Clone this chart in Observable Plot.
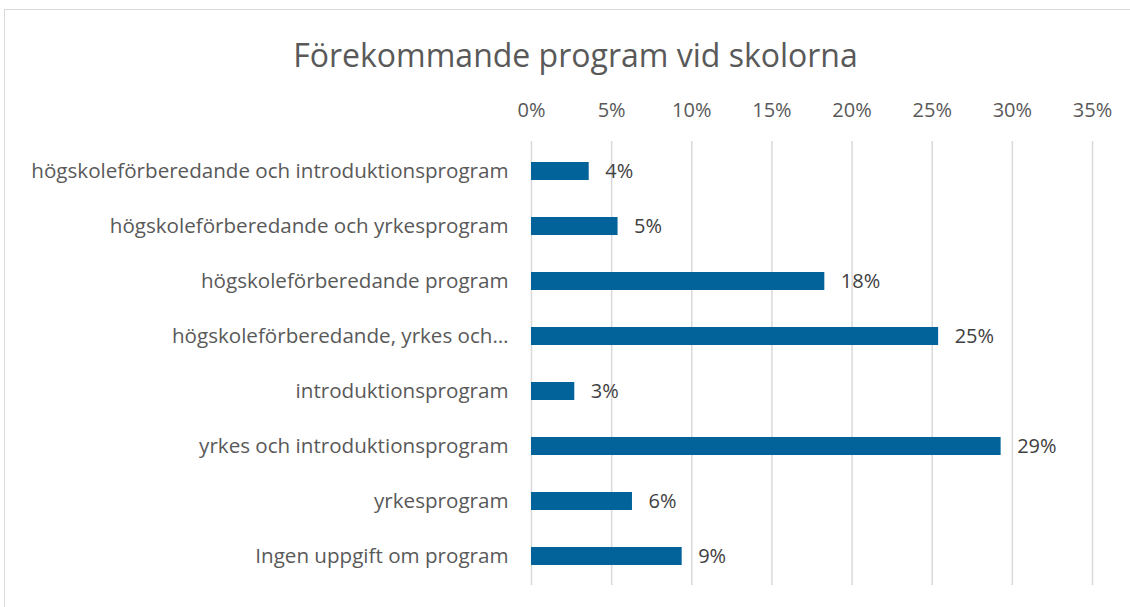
<!DOCTYPE html>
<html><head><meta charset="utf-8">
<script src="https://cdn.jsdelivr.net/npm/d3@7"></script>
<script src="https://cdn.jsdelivr.net/npm/@observablehq/plot@0.6"></script>
<style>
body{margin:0;background:#fff;overflow:hidden;}
#frame{position:absolute;left:4px;top:9px;width:1140px;height:620px;border-left:1.5px solid #d9d9d9;border-top:1.5px solid #d9d9d9;}
#title{position:absolute;left:0;top:33px;width:1151px;text-align:center;font-family:"Open Sans";font-size:32px;color:#595959;line-height:44px;}
#chart{position:absolute;left:0;top:85px;}
</style></head>
<body>
<div id="frame"></div>
<div id="title">Förekommande program vid skolorna</div>
<div id="chart"></div>
<script>
const categories = [
  "högskoleförberedande och introduktionsprogram",
  "högskoleförberedande och yrkesprogram",
  "högskoleförberedande program",
  "högskoleförberedande, yrkes och…",
  "introduktionsprogram",
  "yrkes och introduktionsprogram",
  "yrkesprogram",
  "Ingen uppgift om program"
];
const values = [0.036, 0.054, 0.183, 0.254, 0.027, 0.293, 0.063, 0.094];
const xTicks = [0, 0.05, 0.10, 0.15, 0.20, 0.25, 0.30, 0.35];

const data = categories.map((c, i) => ({category: c, value: values[i]}));
const pct = d3.format(".0%");

const chart = Plot.plot({
  width: 1130,
  height: 515,
  marginLeft: 531,
  marginRight: 38,
  marginTop: 56,
  marginBottom: 15,
  style: {fontFamily: "Open Sans", fontSize: "20px", color: "#595959", background: "transparent"},
  x: {domain: [0, 0.35]},
  y: {domain: categories, paddingInner: 0.675, paddingOuter: 0.3375},
  marks: [
    Plot.gridX(xTicks, {stroke: "#d9d9d9", strokeOpacity: 1, strokeWidth: 1.5}),
    Plot.barX(data, {x: "value", y: "category", fill: "#02639b"}),
    Plot.text(data, {x: "value", y: "category", text: d => pct(d.value), dx: 16, textAnchor: "start", fill: "#404040", fontSize: 20}),
    Plot.axisX({anchor: "top", ticks: xTicks, tickFormat: pct, tickSize: 0, tickPadding: 25, label: null, fontSize: 20}),
    Plot.axisY({tickSize: 0, tickPadding: 23, label: null, fontSize: 20.6})
  ]
});
document.getElementById("chart").appendChild(chart);
</script>
</body></html>
